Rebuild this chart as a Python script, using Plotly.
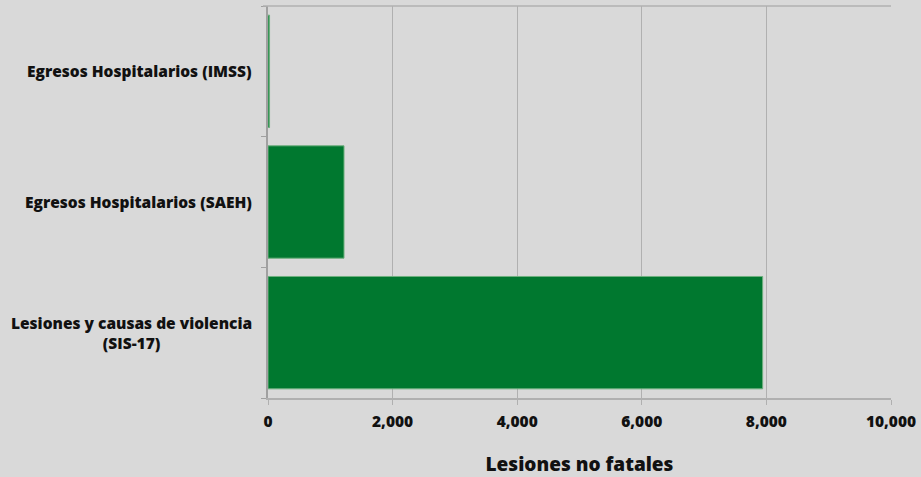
import plotly.graph_objects as go

categories = ["Lesiones y causas de violencia<br>(SIS-17)",
              "Egresos Hospitalarios (SAEH)",
              "Egresos Hospitalarios (IMSS)"]
values = [7940, 1220, 25]
x_ticks = [0, 2000, 4000, 6000, 8000, 10000]
x_title = "Lesiones no fatales"

FONT = "Open Sans"
W = 800
fig = go.Figure()
fig.add_trace(go.Bar(
    y=categories, x=values, orientation="h",
    marker=dict(color="#00782F", line=dict(color="#6fb07f", width=1)),
    width=0.86,
))

for c in categories:
    fig.add_annotation(x=0, xref="paper", y=c, yref="y", text=c,
                       showarrow=False, xanchor="right", xshift=-14, align="center",
                       font=dict(family=FONT, size=15.5, color="#111", weight=W))

fig.add_shape(type="line", xref="paper", yref="paper", x0=-0.008, x1=1, y0=1, y1=1,
              line=dict(color="#b0b0b0", width=1.5))

fig.update_layout(
    width=921, height=477,
    margin=dict(l=268, r=30, t=6, b=79),
    paper_bgcolor="#d9d9d9", plot_bgcolor="#d9d9d9",
    showlegend=False,
    bargap=0.14,
    xaxis=dict(range=[0, 10000], tickvals=x_ticks,
               ticktext=[f"{v:,}" for v in x_ticks],
               showgrid=True, gridcolor="#b0b0b0", gridwidth=1,
               zeroline=False, showline=True, linecolor="#b0b0b0", linewidth=1.5,
               ticks="outside", ticklen=5, tickcolor="#b0b0b0",
               ticklabelstandoff=4,
               tickfont=dict(family=FONT, size=15.5, color="#111", weight=W),
               title=dict(text=x_title, standoff=26,
                          font=dict(family=FONT, size=19, color="#111", weight=W))),
    yaxis=dict(categoryorder="array", categoryarray=categories,
               showticklabels=False, showgrid=False, zeroline=False,
               showline=True, linecolor="#a0a0a0", linewidth=1.5,
               ticks="outside", ticklen=5, tickcolor="#a0a0a0", tickson="boundaries"),
)

fig.write_html("out.html", config={"displayModeBar": False},
               post_script="document.body.style.margin='0';")
